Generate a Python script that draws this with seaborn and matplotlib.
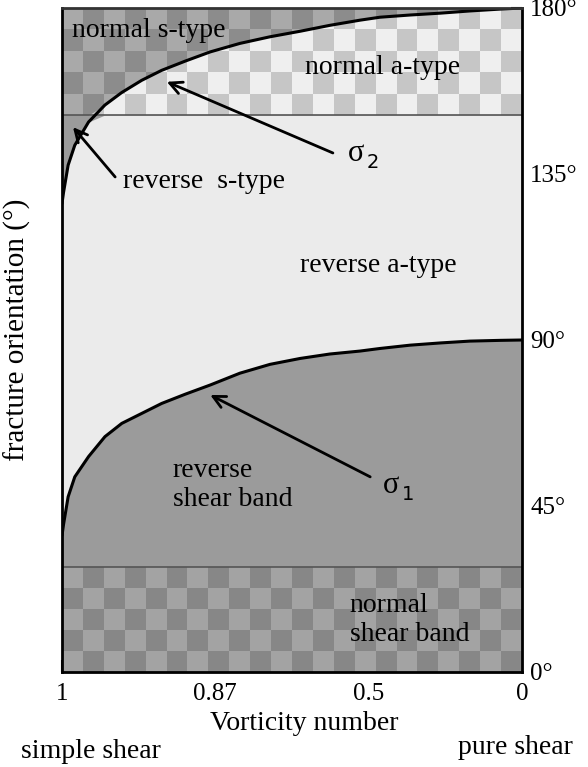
import numpy as np
import matplotlib
matplotlib.use("Agg")
import matplotlib.pyplot as plt
from matplotlib.colors import ListedColormap
import seaborn as sns

# ---------------- data ----------------
# x position = angle whose cosine is the vorticity number (deg)
theta = [0, 0.3, 1.2, 2.5, 5.2, 8.4, 11.7, 15.6, 19.5, 24.1, 29, 34.8,
         40.7, 46.6, 52.4, 58.3, 62.2, 68.1, 74, 79.8, 85.7, 90]
sigma1 = [37, 40, 47.5, 52.9, 58.4, 63.8, 67.4, 70.1, 72.8, 75.3, 77.8, 81.0,
          83.4, 85.0, 86.2, 87.0, 87.7, 88.6, 89.2, 89.7, 89.9, 90]
sigma2 = [127, 130, 137.4, 142.8, 149.1, 153.7, 157.1, 160.4, 163.1, 165.6, 168.1, 170.4,
          172.2, 173.7, 175.3, 176.7, 177.5, 178.1, 178.6, 179.2, 179.7, 180]
band_low = 28.5     # top of "normal shear band"
band_high = 151     # bottom of "normal a/s-type"

xtick_pos = [0, 30, 60, 90]
xtick_labels = ["1", "0.87", "0.5", "0"]
ytick_pos = [0, 45, 90, 135, 180]
ytick_labels = ["0°", "45°", "90°", "135°", "180°"]

# ---------------- style ----------------
sns.set_theme(style="white")
plt.rcParams["font.family"] = ["Liberation Serif", "DejaVu Serif"]
plt.rcParams["text.color"] = "black"
plt.rcParams["axes.labelcolor"] = "black"
plt.rcParams["xtick.color"] = "black"
plt.rcParams["ytick.color"] = "black"

fig = plt.figure(figsize=(5.88, 7.67), dpi=100)
ax = fig.add_axes([62 / 588, 1 - 672 / 767, 460 / 588, 664 / 767])

th = np.array(theta)
s1 = np.array(sigma1)
s2 = np.array(sigma2)

# middle band
ax.fill_between(th, band_low, band_high, color="#9b9b9b", lw=0, zorder=1)
ax.fill_between(th, s1, np.minimum(s2, band_high), color="#ebebeb", lw=0, zorder=1.1)
# top band
ax.fill_between(th, band_high, 180, color="#a9a9a9", lw=0, zorder=1)
ax.fill_between(th, band_high, np.clip(s2, band_high, 180), color="#efefef", lw=0, zorder=1.1)
# bottom band
ax.axhspan(0, band_low, color="#a3a3a3", lw=0, zorder=1)

# checker overlays
ncol, nrow = 22, 5
xe = np.linspace(0, 90, ncol + 1)
cmap = ListedColormap([(0, 0, 0, 0.17)])
for y0, y1 in [(band_high, 180), (0, band_low)]:
    ye = np.linspace(y0, y1, nrow + 1)
    ii, jj = np.meshgrid(np.arange(ncol), np.arange(nrow))
    c = np.ma.masked_equal((ii + jj) % 2, 0)
    ax.pcolormesh(xe, ye, c, cmap=cmap, vmin=0, vmax=1, shading="flat",
                  antialiased=False, zorder=1.5)

ax.axhline(band_high, color="#555555", lw=1.2, zorder=2)
ax.axhline(band_low, color="#555555", lw=1.2, zorder=2)

sns.lineplot(x=theta, y=sigma1, ax=ax, color="black", lw=2.2, zorder=3)
sns.lineplot(x=theta, y=sigma2, ax=ax, color="black", lw=2.2, zorder=3)

ax.set_xlim(0, 90)
ax.set_ylim(0, 180)

# ---------------- text ----------------
fs = 20
ax.text(2, 174, "normal s-type", fontsize=fs, ha="left", va="center", zorder=4)
ax.text(47.5, 164, "normal a-type", fontsize=fs, ha="left", va="center", zorder=4)
ax.text(11.9, 133, "reverse  s-type", fontsize=fs, ha="left", va="center", zorder=4)
ax.text(46.6, 110.3, "reverse a-type", fontsize=fs, ha="left", va="center", zorder=4)
ax.text(21.7, 50.7, "reverse\nshear band", fontsize=fs, ha="left", va="center",
        linespacing=1.2, zorder=4)
ax.text(56.3, 14.1, "normal\nshear band", fontsize=fs, ha="left", va="center",
        linespacing=1.2, zorder=4)
# sigma labels with separate subscript
for (x0, y0, sub) in [(56, 140.5, "2"), (62.8, 50.5, "1")]:
    ax.text(x0, y0, "σ", fontsize=fs + 2, ha="left", va="center", zorder=4)
    ax.text(x0 + 3.6, y0 - 2.5, sub, fontsize=14, ha="left", va="center",
            family=["DejaVu Sans"], zorder=4)

arrow = dict(arrowstyle="->", lw=2, color="black", mutation_scale=22, shrinkA=0, shrinkB=0)
ax.annotate("", xy=(20.5, 160), xytext=(53, 140.7), arrowprops=arrow, zorder=4)
ax.annotate("", xy=(2.15, 147.7), xytext=(10.4, 134.2), arrowprops=arrow, zorder=4)
ax.annotate("", xy=(29, 75.1), xytext=(60.3, 52.9), arrowprops=arrow, zorder=4)

# ---------------- axes ----------------
ax.set_xticks(xtick_pos)
ax.set_xticklabels(xtick_labels)
ax.set_yticks(ytick_pos)
ax.set_yticklabels(ytick_labels)
ax.yaxis.tick_right()
ax.tick_params(axis="x", direction="in", length=9, width=1.5, labelsize=18, pad=8,
               bottom=True, colors="black")
ax.tick_params(axis="y", direction="in", length=8, width=1.5, labelsize=18, pad=6,
               right=True, left=False, colors="black")

ax.set_xlabel("Vorticity number", fontsize=fs, color="black")
ax.xaxis.set_label_coords(0.526, -0.058)
ax.set_ylabel("fracture orientation (°)", fontsize=21, color="black")
ax.yaxis.set_label_position("left")
ax.yaxis.set_label_coords(-0.068, 0.515)

for name, sp in ax.spines.items():
    sp.set_visible(True)
    sp.set_color("black" if name != "top" else "#333333")
    sp.set_linewidth(2)
    sp.set_zorder(5)

fig.text(91 / 588, 1 - 752 / 767, "simple shear", fontsize=fs, ha="center", va="center")
fig.text(515 / 588, 1 - 748 / 767, "pure shear", fontsize=fs, ha="center", va="center")

fig.savefig("out.png", dpi=100, facecolor="white")
